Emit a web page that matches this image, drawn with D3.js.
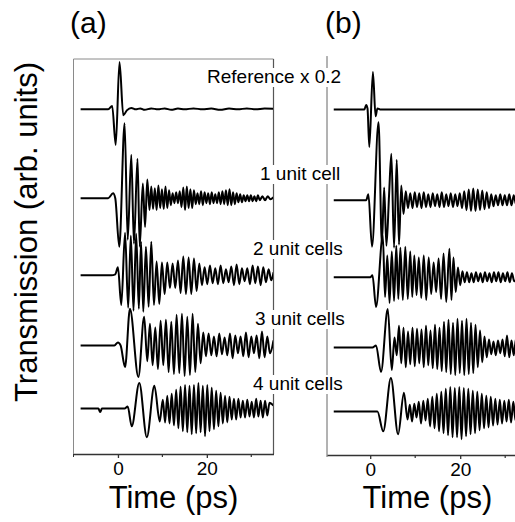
<!DOCTYPE html>
<html>
<head>
<meta charset="utf-8">
<script src="https://cdn.jsdelivr.net/npm/d3@7/dist/d3.min.js"></script>
<style>
body{margin:0;background:#fff}
svg{display:block;font-family:"Liberation Sans",Arial,sans-serif}
</style>
</head>
<body>
<div id="chart"></div>
<script>
// traces: [time (ps), transmission (arb. units, relative to trace baseline)]
const refA=[[-8.4,0],[-2.2,0],[-1.3,0.35],[-0.5,-3.6],[0.35,4.8],[1.2,-0.6],[2,-0.1],[3,0.15],[4,0],[5,0.1],[6,-0.05],[7.5,0.1],[9,0],[10.5,0.1],[12,-0.05],[13.5,0.08],[15,0],[17,0.1],[19,0],[21,0.08],[23,-0.05],[25,0.08],[27,0],[29,0.1],[31,0],[33,0.08],[35,0.05]];
const oneA=[[-8.4,0],[-2.2,0],[-1.1,0.5],[-0.6,0],[0.3,-4.9],[1.5,7.6],[2.2,-4.2],[3,4.4],[3.6,-4.6],[4.4,4],[4.9,-4.9],[5.6,1.5],[6.1,-2.9],[6.6,1.9],[7.1,-1.2],[7.5,1.2],[7.9,-1.1],[8.3,1],[8.7,-1.2],[9.1,1.3],[9.5,-1],[9.9,0.9],[10.3,-1.1],[10.7,1.2],[11.1,-1],[11.5,0.8],[11.9,-0.7],[12.3,0.5],[12.7,-0.5],[13.1,0.6],[13.5,-0.5],[13.9,0.7],[14.3,-0.9],[14.7,1.1],[15.1,-1.2],[15.5,1.2],[15.9,-1],[16.3,0.9],[16.7,-1],[17.1,0.8],[17.5,-0.6],[17.9,0.5],[18.3,-0.6],[18.7,0.7],[19.1,-0.7],[19.5,0.6],[19.9,-0.5],[20.3,0.5],[20.7,-0.6],[21.1,0.6],[21.5,-0.5],[21.9,0.4],[22.3,-0.5],[22.7,0.6],[23.1,-0.6],[23.5,0.7],[23.9,-0.6],[24.3,0.8],[24.7,-0.7],[25.1,0.9],[25.5,-0.7],[25.9,0.6],[26.3,-0.6],[26.7,0.5],[27.1,-0.4],[27.5,0.4],[27.9,-0.4],[28.3,0.3],[28.7,-0.3],[29.1,0.3],[29.5,-0.3],[29.9,0.3],[30.3,-0.3],[30.7,0.2],[31.1,-0.3],[31.5,0.3],[31.9,-0.2],[32.5,0.2],[33.1,-0.2],[33.7,0.2],[34.3,-0.1],[35,0.1]];
const twoA=[[-8.4,0],[-1.5,0],[-0.6,0.1],[0,0.8],[0.75,-3],[1.6,4.3],[2.3,-3.3],[2.9,4],[3.5,-3.6],[4.1,4.2],[4.7,-3.4],[5.2,3.4],[5.7,-3.7],[6.3,2.9],[6.9,-3.2],[7.5,3.4],[8.1,-3],[8.7,1.4],[9.3,-2.9],[9.9,1.3],[10.5,-1.9],[11.1,1.3],[11.7,-1.3],[12.3,1.2],[12.9,-1.3],[13.5,1.5],[14.1,-1.8],[14.7,1.9],[15.3,-1.9],[15.9,1.8],[16.5,-1.9],[17.1,1.7],[17.7,-1.6],[18.3,1.2],[18.9,-1],[19.5,0.8],[20.1,-0.9],[20.7,1],[21.3,-0.8],[21.9,0.7],[22.5,-0.9],[23.1,1],[23.7,-0.8],[24.3,0.6],[24.9,-0.7],[25.5,0.9],[26.1,-1],[26.7,1.1],[27.3,-0.9],[27.9,0.7],[28.5,-0.6],[29.1,0.7],[29.7,-0.9],[30.3,1],[30.9,-0.8],[31.5,0.9],[32.1,-1],[32.7,0.8],[33.3,-0.7],[33.9,0.6],[34.5,-0.5],[35,0.3]];
const threeA=[[-8.4,0],[-0.8,0],[0,0.3],[0.6,0],[1.6,-2.2],[2.7,3.7],[4.6,-3.2],[5.9,2.9],[6.6,-1.6],[7.2,2.2],[7.8,-2],[8.4,1.8],[9,-2.4],[9.6,2.5],[10.2,-2],[10.8,2.6],[11.4,-2.7],[12,2.4],[12.6,-2.9],[13.2,3.1],[13.8,-2.8],[14.4,3.2],[15,-3.1],[15.6,2.9],[16.2,-3],[16.8,3.2],[17.4,-2.7],[18,2.2],[18.6,-1.8],[19.2,1.3],[19.8,-1.1],[20.4,1.2],[21,-1],[21.6,0.9],[22.2,-1.1],[22.8,1.2],[23.4,-0.9],[24,0.8],[24.6,-1],[25.2,1.2],[25.8,-1.3],[26.4,1],[27,-0.8],[27.6,0.9],[28.2,-1.1],[28.8,1.3],[29.4,-1.2],[30,0.9],[30.6,-0.8],[31.2,1],[31.8,-1.3],[32.4,1.4],[33,-1.2],[33.6,0.9],[34.2,-0.8],[35,0.5]];
const fourA=[[-8.4,0],[-4.4,0],[-4,-0.35],[-3.6,0],[1.5,0],[2.2,0.2],[3.1,-1.8],[4.8,2.6],[6.5,-2.9],[8.2,2.3],[9.4,-1.3],[10.1,0.9],[10.6,-1.4],[11.1,1.3],[11.6,-1.5],[12.1,1.5],[12.6,-1.7],[13.1,1.9],[13.6,-2],[14.1,2.2],[14.6,-2.3],[15.1,2.4],[15.6,-2.4],[16.1,2.3],[16.6,-2.6],[17.1,2.4],[17.6,-2.5],[18.1,2.6],[18.6,-2.4],[19.1,2.3],[19.6,-2.8],[20.1,2.4],[20.6,-2.3],[21.1,2.1],[21.6,-2.1],[22.1,1.8],[22.6,-1.8],[23.1,1.6],[23.6,-1.5],[24.1,1.3],[24.6,-1.4],[25.1,1.2],[25.6,-1.1],[26.1,1],[26.6,-1.1],[27.1,1],[27.6,-0.9],[28.1,0.8],[28.6,-0.9],[29.1,0.9],[29.6,-0.8],[30.1,0.7],[30.6,-0.9],[31.1,1],[31.6,-0.8],[32.1,0.8],[32.6,-0.9],[33.1,0.8],[33.6,-0.7],[34.1,0.6],[35,0.3]];

const refB=[[-8.1,0],[-1.3,0],[-0.9,0.45],[-0.6,0.1],[-0.2,-3.8],[0.6,3.8],[1.2,-0.7],[1.6,0.1],[2.2,0],[35,0]];
const oneB=[[-8.1,0],[-0.9,0],[-0.4,0.6],[0.4,-4.7],[1.85,7.9],[2.6,-4.4],[3.1,1.3],[3.6,-4.6],[4.2,0.6],[4.7,4.7],[5.3,-4.8],[5.9,4.1],[6.4,-4.5],[6.9,1.5],[7.4,-1.4],[7.9,0.9],[8.4,-0.8],[8.9,0.7],[9.4,-0.8],[9.9,0.8],[10.4,-0.7],[10.9,0.7],[11.4,-0.8],[11.9,0.8],[12.4,-0.7],[12.9,0.6],[13.4,-0.7],[13.9,0.7],[14.4,-0.6],[14.9,0.6],[15.4,-0.7],[15.9,0.8],[16.4,-0.7],[16.9,0.6],[17.4,-0.6],[17.9,0.7],[18.4,-0.7],[18.9,0.6],[19.4,-0.6],[19.9,0.7],[20.4,-0.8],[20.9,0.9],[21.4,-1],[21.9,1.1],[22.4,-1.1],[22.9,1.2],[23.4,-1.1],[23.9,1.1],[24.4,-1],[24.9,1],[25.4,-0.9],[25.9,0.8],[26.4,-0.8],[26.9,0.6],[27.4,-0.6],[27.9,0.5],[28.4,-0.5],[28.9,0.6],[29.4,-0.5],[29.9,0.5],[30.4,-0.5],[30.9,0.6],[31.4,-0.5],[31.9,0.5],[32.4,-0.4],[33,0.3]];
const twoB=[[-8.1,0],[0,0],[0.5,0.2],[1.3,-3],[2.8,4.2],[3.3,-2],[3.8,2.2],[4.3,-2.6],[4.8,2.6],[5.3,-2.4],[5.8,3.2],[6.25,-2.2],[6.7,3],[7.25,-2.3],[7.8,3.1],[8.35,-2.2],[8.9,2.6],[9.35,-2],[9.8,2.2],[10.3,-1.8],[10.8,2],[11.35,-2.1],[11.9,2.2],[12.45,-2.3],[13,2],[13.55,-1.7],[14.1,1.5],[14.65,-1.5],[15.2,1.9],[15.75,-2.2],[16.3,2.4],[16.9,-2.5],[17.6,2.9],[18.05,-2.3],[18.5,2],[19,-1.5],[19.5,1],[20,-0.8],[20.5,0.6],[21,-0.5],[21.5,0.5],[22,-0.5],[22.5,0.4],[23,-0.5],[23.5,0.5],[24,-0.4],[24.5,0.4],[25,-0.5],[25.5,0.5],[26,-0.4],[26.5,0.4],[27,-0.5],[27.5,0.5],[28,-0.4],[28.5,0.5],[29,-0.5],[29.5,0.4],[30,-0.4],[30.5,0.5],[31,-0.5],[31.5,0.4],[32,-0.4],[33,0.3]];
const threeB=[[-8.1,0],[0.5,0],[1.3,0.2],[2.4,-2.5],[3.9,3.9],[4.8,-2.3],[5.4,1],[5.9,-0.8],[6.4,2.2],[6.9,-1.6],[7.4,2],[7.9,-2],[8.4,1.6],[8.9,-1.7],[9.4,2],[9.9,-1.9],[10.4,1.9],[10.9,-1.6],[11.4,1.8],[11.9,-2],[12.4,2.2],[12.9,-1.8],[13.4,1.7],[13.9,-2.1],[14.4,2.3],[14.9,-2.2],[15.4,2],[15.9,-2.4],[16.4,2.6],[16.9,-2.5],[17.4,2.8],[17.9,-2.7],[18.4,2.5],[18.9,-2.8],[19.4,2.9],[19.9,-2.6],[20.4,2.7],[20.9,-2.8],[21.4,2.9],[21.9,-2.7],[22.4,2.5],[22.9,-2.6],[23.4,2.3],[23.9,-2],[24.4,1.7],[24.9,-1.5],[25.4,1.1],[25.9,-1],[26.4,0.8],[26.9,-0.7],[27.4,0.6],[27.9,-0.8],[28.4,0.7],[28.9,-0.6],[29.4,0.8],[29.9,-0.9],[30.4,1.2],[30.9,-1],[31.4,0.7],[31.9,-0.8],[32.4,0.9],[33,-0.6]];
const fourB=[[-8.1,0],[1.6,0],[2.9,-2],[4.6,3.4],[6.2,-2.3],[7.5,1.9],[8.3,-0.8],[8.8,0.7],[9.3,-1],[9.8,0.8],[10.3,-0.6],[10.8,1],[11.3,-1.2],[11.8,1.1],[12.3,-0.9],[12.8,1.3],[13.3,-1.5],[13.8,1.5],[14.3,-1.7],[14.8,1.8],[15.3,-2],[15.8,2],[16.3,-2.2],[16.8,2.3],[17.3,-2.4],[17.8,2.5],[18.3,-2.6],[18.8,2.4],[19.3,-2.6],[19.8,2.5],[20.3,-2.8],[20.8,2.4],[21.3,-2.5],[21.8,2.3],[22.3,-2.3],[22.8,2.1],[23.3,-2.2],[23.8,2],[24.3,-1.9],[24.8,1.8],[25.3,-1.7],[25.8,1.6],[26.3,-1.6],[26.8,1.5],[27.3,-1.4],[27.8,1.3],[28.3,-1.3],[28.8,1.2],[29.3,-1.2],[29.8,1.1],[30.3,-1],[30.8,1.2],[31.3,-1.1],[31.8,1],[32.3,-0.9],[33,0.6]];

const tracesA=[refA,oneA,twoA,threeA,fourA];
const tracesB=[refB,oneB,twoB,threeB,fourB];
const offsetsA=[34.9,25.9,18.1,11.0,4.6];
const offsetsB=[35.2,26.0,18.2,11.1,4.6];
const traceLabels=['Reference x 0.2','1 unit cell','2 unit cells','3 unit cells','4 unit cells'];
const majorTicks=[0,20];
const minorTicks=[10,30];

const width=515, height=522;

const svg=d3.select('#chart').append('svg')
  .attr('width',width)
  .attr('height',height);

svg.append('rect').attr('width',width).attr('height',height).attr('fill','white');

const xA=d3.scaleLinear().domain([-10,35]).range([73.5,273.5]);
const xB=d3.scaleLinear().domain([-9.6,35]).range([327,527.7]);
const yA=d3.scaleLinear().domain([0,40]).range([454,59]);
const yB=d3.scaleLinear().domain([0,40]).range([457,62]);

svg.append('clipPath').attr('id','clipA').append('rect')
  .attr('x',74).attr('y',40).attr('width',199).attr('height',413);
svg.append('clipPath').attr('id','clipB').append('rect')
  .attr('x',327.5).attr('y',40).attr('width',200).attr('height',416);

// panel (a) frame
svg.append('path')
  .attr('d',`M${xA(-10)},${yA(0)}V${yA(40)}H${xA(35)}`)
  .attr('fill','none').attr('stroke','#8a8a8a').attr('stroke-width',1);
svg.append('path')
  .attr('d',`M${xA(35)},${yA(40)}V${yA(0)}`)
  .attr('fill','none').attr('stroke','#555').attr('stroke-width',1.2);
// panel (b) left axis
svg.append('path')
  .attr('d',`M${xB(-9.6)},${yB(0)}V${yB(40.6)}`)
  .attr('fill','none').attr('stroke','#666').attr('stroke-width',1);

function xAxis(g,x,y0){
  g.attr('transform',`translate(0,${y0})`)
    .call(d3.axisBottom(x).tickValues(majorTicks).tickSize(4).tickSizeOuter(0).tickPadding(4).tickFormat(d3.format('d')));
  g.select('.domain').attr('stroke','#333').attr('stroke-width',1.4);
  g.selectAll('.tick line').attr('stroke','#333').attr('stroke-width',1.3);
  g.selectAll('.tick text').attr('font-size',19).attr('font-family','"Liberation Sans",Arial,sans-serif').attr('fill','#000');
  g.selectAll('.minor').data(minorTicks).join('line')
    .attr('class','minor')
    .attr('x1',d=>x(d)).attr('x2',d=>x(d))
    .attr('y1',0).attr('y2',3)
    .attr('stroke','#333').attr('stroke-width',1.2);
}
svg.append('g').call(xAxis,xA,yA(0));
svg.append('g').call(xAxis,xB,yB(0)-2);
svg.append('line').attr('x1',xA(-10)).attr('x2',xA(-10)).attr('y1',yA(0)).attr('y2',yA(0)+3).attr('stroke','#333');

function drawTraces(traces,offsets,x,y,clip){
  const line=d3.line()
    .x(d=>x(d[0]))
    .y(d=>y(d[1]))
    .curve(d3.curveMonotoneX);
  svg.append('g').attr('clip-path',`url(#${clip})`)
    .selectAll('path')
    .data(traces.map((t,i)=>t.map(p=>[p[0],p[1]+offsets[i]])))
    .join('path')
    .attr('d',line)
    .attr('fill','none')
    .attr('stroke','#000')
    .attr('stroke-width',2)
    .attr('stroke-linejoin','round');
}
drawTraces(tracesA,offsetsA,xA,yA,'clipA');
drawTraces(tracesB,offsetsB,xB,yB,'clipB');

// trace labels with white backing
const labelPos=[[207,83],[260,180],[253,255],[255,325],[253,390]];
const lg=svg.append('g');
traceLabels.forEach((t,i)=>{
  const g=lg.append('g');
  const txt=g.append('text')
    .attr('x',labelPos[i][0]).attr('y',labelPos[i][1])
    .attr('font-size',19).attr('fill','#000').text(t);
  const b=txt.node().getBBox();
  g.insert('rect','text').attr('x',b.x-1).attr('y',b.y+2).attr('width',b.width+2).attr('height',b.height-2).attr('fill','white');
});

svg.append('text').attr('x',70).attr('y',33).attr('font-size',30).text('(a)');
svg.append('text').attr('x',325).attr('y',33).attr('font-size',30).text('(b)');

svg.append('text')
  .attr('transform','translate(37,232) rotate(-90)')
  .attr('text-anchor','middle').attr('font-size',31)
  .text('Transmission (arb. units)');

svg.append('text').attr('x',(xA(-10)+xA(35))/2).attr('y',508)
  .attr('text-anchor','middle').attr('font-size',31).text('Time (ps)');
svg.append('text').attr('x',(xB(-9.6)+xB(35))/2).attr('y',508)
  .attr('text-anchor','middle').attr('font-size',31).text('Time (ps)');
</script>
</body>
</html>
